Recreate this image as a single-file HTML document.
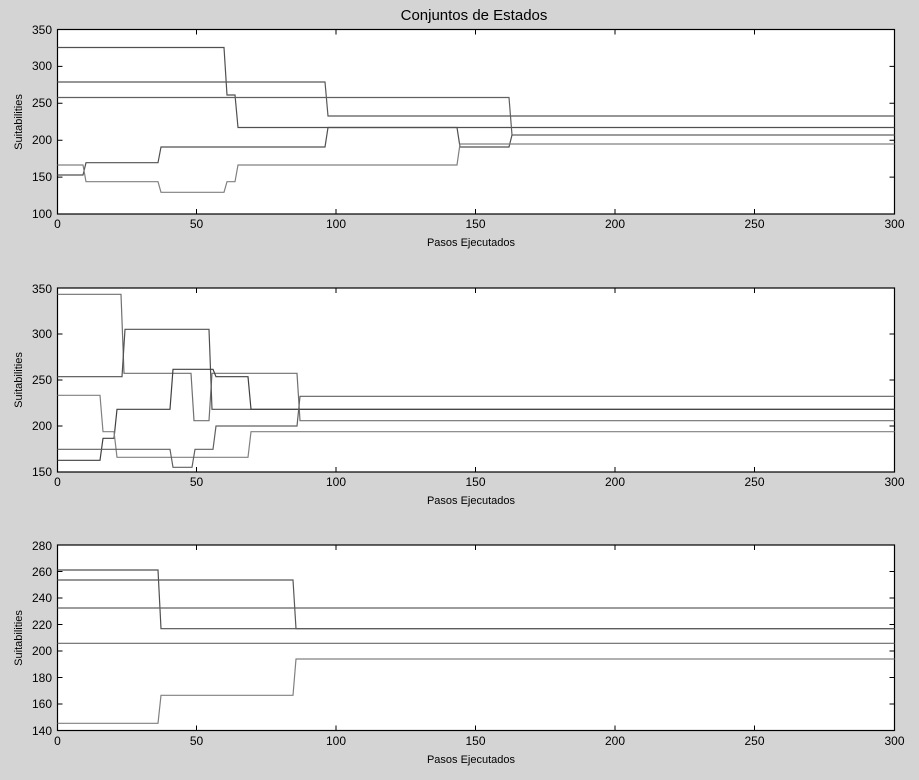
<!DOCTYPE html>
<html><head><meta charset="utf-8"><style>
html,body{margin:0;padding:0;background:#d4d4d4;}
svg{display:block;font-family:"Liberation Sans",Arial,sans-serif;}
</style></head><body>
<svg width="919" height="780" viewBox="0 0 919 780" xmlns="http://www.w3.org/2000/svg">
<rect width="919" height="780" fill="#d4d4d4"/>
<text x="474" y="20" font-size="15" text-anchor="middle" fill="#000">Conjuntos de Estados</text>

<!-- Plot 1 -->
<g>
<rect x="57.5" y="29.5" width="837" height="184.5" fill="#fff" stroke="#000" stroke-width="1.2"/>
<g stroke="#000" stroke-width="1">
<path d="M196.5,214v-5M196.5,29.5v5M336,214v-5M336,29.5v5M475.5,214v-5M475.5,29.5v5M615,214v-5M615,29.5v5M754.5,214v-5M754.5,29.5v5"/>
<path d="M57.5,177.1h5M894.5,177.1h-5M57.5,140.2h5M894.5,140.2h-5M57.5,103.3h5M894.5,103.3h-5M57.5,66.4h5M894.5,66.4h-5"/>
</g>
<g fill="none" stroke-width="1.2">
<path stroke="#505050" d="M57.5,47.5 H224 L227,95 H235 L238,127.5 H894.5"/>
<path stroke="#585858" d="M57.5,82 H325 L328,116 H894.5"/>
<path stroke="#606060" d="M57.5,97.5 H509 L512,135 H894.5"/>
<path stroke="#505050" d="M57.5,175 H83 L86,162.7 H158 L161,147 H325 L328,127.5 H457 L460,147 H509 L512,135"/>
<path stroke="#808080" d="M57.5,165 H83 L86,181.7 H158 L161,192.3 H224 L227,181.7 H235 L238,165 H457 L460,144 H894.5"/>
</g>
<g font-size="12" text-anchor="end" fill="#000">
<text x="52" y="218">100</text><text x="52" y="181">150</text><text x="52" y="144">200</text><text x="52" y="107">250</text><text x="52" y="70">300</text><text x="52" y="34">350</text>
</g>
<g font-size="12" text-anchor="middle" fill="#000">
<text x="57.5" y="228">0</text><text x="196.5" y="228">50</text><text x="336" y="228">100</text><text x="475.5" y="228">150</text><text x="615" y="228">200</text><text x="754.5" y="228">250</text><text x="894.5" y="228">300</text>
</g>
<text x="471" y="246" font-size="11" text-anchor="middle">Pasos Ejecutados</text>
<text transform="translate(22,122) rotate(-90)" font-size="11" text-anchor="middle">Suitabilities</text>
</g>

<!-- Plot 2 -->
<g>
<rect x="57.5" y="288" width="837" height="184" fill="#fff" stroke="#000" stroke-width="1.2"/>
<g stroke="#000" stroke-width="1">
<path d="M196.5,472v-5M196.5,288v5M336,472v-5M336,288v5M475.5,472v-5M475.5,288v5M615,472v-5M615,288v5M754.5,472v-5M754.5,288v5"/>
<path d="M57.5,426h5M894.5,426h-5M57.5,380h5M894.5,380h-5M57.5,334h5M894.5,334h-5"/>
</g>
<g fill="none" stroke-width="1.2">
<path stroke="#707070" d="M57.5,294.3 H121 L124,373.3 H191 L194,420.7 H209 L212,373.3 H297 L300,420.7 H894.5"/>
<path stroke="#505050" d="M57.5,376.7 H122 L125,329.3 H209 L212,409.3 H894.5"/>
<path stroke="#404040" d="M57.5,460.3 H100 L103,438.3 H114 L117,409.3 H170 L173,369.3 H213 L216,376.7 H248 L251,409.3 H894.5"/>
<path stroke="#808080" d="M57.5,395.3 H100 L103,431.7 H114 L117,457.3 H248 L251,431.7 H894.5"/>
<path stroke="#606060" d="M57.5,449.3 H170 L173,467.3 H192 L195,449.3 H213 L216,426 H297 L300,396.3 H894.5"/>
</g>
<g font-size="12" text-anchor="end" fill="#000">
<text x="52" y="476">150</text><text x="52" y="430">200</text><text x="52" y="384">250</text><text x="52" y="338">300</text><text x="52" y="293">350</text>
</g>
<g font-size="12" text-anchor="middle" fill="#000">
<text x="57.5" y="486">0</text><text x="196.5" y="486">50</text><text x="336" y="486">100</text><text x="475.5" y="486">150</text><text x="615" y="486">200</text><text x="754.5" y="486">250</text><text x="894.5" y="486">300</text>
</g>
<text x="471" y="504" font-size="11" text-anchor="middle">Pasos Ejecutados</text>
<text transform="translate(22,380) rotate(-90)" font-size="11" text-anchor="middle">Suitabilities</text>
</g>

<!-- Plot 3 -->
<g>
<rect x="57.5" y="545" width="837" height="185.5" fill="#fff" stroke="#000" stroke-width="1.2"/>
<g stroke="#000" stroke-width="1">
<path d="M196.5,730.5v-5M196.5,545v5M336,730.5v-5M336,545v5M475.5,730.5v-5M475.5,545v5M615,730.5v-5M615,545v5M754.5,730.5v-5M754.5,545v5"/>
<path d="M57.5,704h5M894.5,704h-5M57.5,677.5h5M894.5,677.5h-5M57.5,651h5M894.5,651h-5M57.5,624.5h5M894.5,624.5h-5M57.5,598h5M894.5,598h-5M57.5,571.5h5M894.5,571.5h-5"/>
</g>
<g fill="none" stroke-width="1.2">
<path stroke="#505050" d="M57.5,570 H158 L161,628.7 H894.5"/>
<path stroke="#585858" d="M57.5,580 H293 L296,628.7 H894.5"/>
<path stroke="#606060" d="M57.5,608 H894.5"/>
<path stroke="#686868" d="M57.5,643.3 H894.5"/>
<path stroke="#808080" d="M57.5,723.3 H158 L161,695.3 H293 L296,659 H894.5"/>
</g>
<g font-size="12" text-anchor="end" fill="#000">
<text x="52" y="735">140</text><text x="52" y="708">160</text><text x="52" y="682">180</text><text x="52" y="655">200</text><text x="52" y="629">220</text><text x="52" y="602">240</text><text x="52" y="576">260</text><text x="52" y="550">280</text>
</g>
<g font-size="12" text-anchor="middle" fill="#000">
<text x="57.5" y="745">0</text><text x="196.5" y="745">50</text><text x="336" y="745">100</text><text x="475.5" y="745">150</text><text x="615" y="745">200</text><text x="754.5" y="745">250</text><text x="894.5" y="745">300</text>
</g>
<text x="471" y="763" font-size="11" text-anchor="middle">Pasos Ejecutados</text>
<text transform="translate(22,638) rotate(-90)" font-size="11" text-anchor="middle">Suitabilities</text>
</g>
</svg>
</body></html>
